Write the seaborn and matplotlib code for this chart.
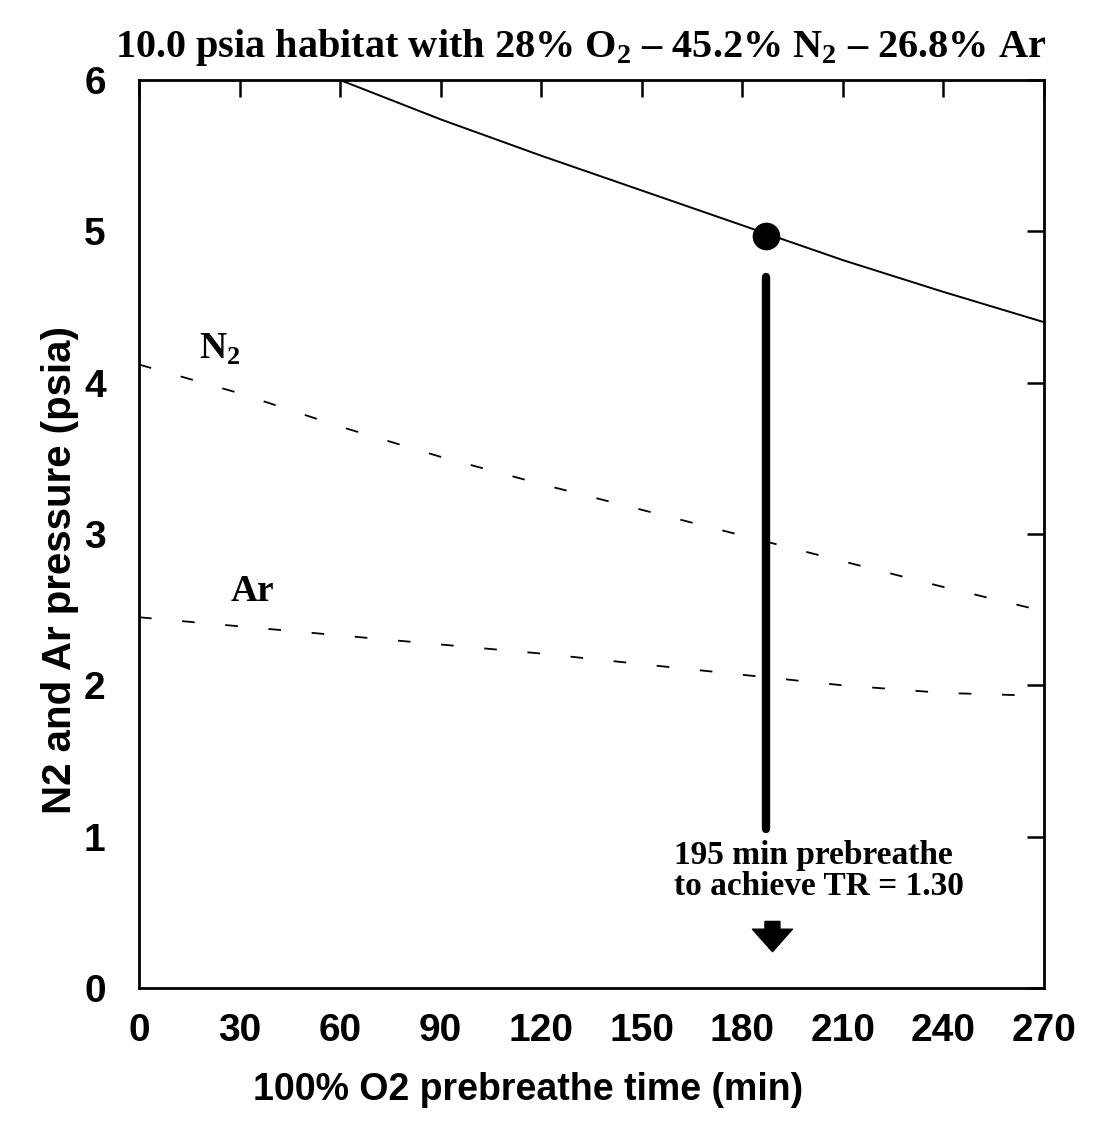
import numpy as np
import pandas as pd
import seaborn as sns
import matplotlib
matplotlib.use("Agg")
import matplotlib.pyplot as plt

# Values
time_min = [0, 30, 60, 90, 120, 150, 180, 210, 240, 270]
total_psia = [6.57, 6.29, 6.00, 5.74, 5.50, 5.27, 5.04, 4.81, 4.60, 4.40]
n2_psia = [4.12, 3.93, 3.71, 3.51, 3.33, 3.16, 2.99, 2.82, 2.65, 2.49]
ar_psia = [2.45, 2.39, 2.33, 2.27, 2.21, 2.14, 2.07, 2.00, 1.95, 1.93]

target_time = [187]
target_psia = [4.97]
bar_range = [1.05, 4.70]

x_ticks = [0, 30, 60, 90, 120, 150, 180, 210, 240, 270]
y_ticks = [0, 1, 2, 3, 4, 5, 6]

title_text = (r"10.0 psia habitat with 28% O$_{\mathbf{2}}$ – 45.2% N$_{\mathbf{2}}$"
              r" – 26.8% Ar")
x_label = "100% O2 prebreathe time (min)"
y_label = "N2 and Ar pressure (psia)"
note_text = "195 min prebreathe\nto achieve TR = 1.30"

df = pd.DataFrame({"time": time_min, "total": total_psia, "N2": n2_psia, "Ar": ar_psia})

sns.set_style("white")
plt.rcParams["mathtext.fontset"] = "custom"
plt.rcParams["mathtext.rm"] = "Liberation Serif"
plt.rcParams["mathtext.bf"] = "Liberation Serif:bold"
plt.rcParams["text.color"] = "black"
plt.rcParams["axes.labelcolor"] = "black"
plt.rcParams["xtick.color"] = "black"
plt.rcParams["ytick.color"] = "black"

fig = plt.figure(figsize=(10.96, 11.35), dpi=100)
ax = fig.add_axes([0.1268, 0.1295, 0.8257, 0.80])

# curves
sns.lineplot(data=df, x="time", y="total", ax=ax, color="black", lw=1.4)
sns.lineplot(data=df, x="time", y="N2", ax=ax, color="black", lw=1.3,
             linestyle=(0, (7, 17)))
sns.lineplot(data=df, x="time", y="Ar", ax=ax, color="black", lw=1.3,
             linestyle=(0, (7, 17)))

# target point and marker bar
sns.scatterplot(x=target_time, y=target_psia, ax=ax, s=340, color="black",
                edgecolor="black", zorder=5)
ax.plot([target_time[0], target_time[0]], bar_range, color="black", lw=6,
        solid_capstyle="round")
ax.annotate("", xy=(target_time[0] + 2, 0.24), xytext=(target_time[0] + 2, 0.44),
            arrowprops=dict(arrowstyle="simple,head_width=1.6,head_length=0.9,tail_width=0.6",
                            color="black", mutation_scale=18, shrinkA=0, shrinkB=0))

serif = dict(family="Liberation Serif", weight="bold", color="black")
ax.text(159.5, 0.98, note_text, ha="left", va="top",
        fontsize=24, linespacing=1.0, **serif)
ax.text(24, 4.22, r"N$_{\mathbf{2}}$", ha="center", va="center", fontsize=27, **serif)
ax.text(34, 2.62, "Ar", ha="center", va="center", fontsize=27, **serif)

fig.text(0.53, 0.958, title_text, ha="center", va="center", fontsize=29, **serif)

# axes styling
ax.set_xlim(0, 270)
ax.set_ylim(0, 6)
ax.set_xticks(x_ticks)
ax.set_yticks(y_ticks)
sans = dict(family="Liberation Sans", weight="bold")
ax.set_xticklabels([str(t) for t in x_ticks], fontsize=28, **sans)
ax.set_yticklabels([str(t) for t in y_ticks], fontsize=28, **sans)
ax.tick_params(direction="in", length=12, width=1.8, top=True, right=True,
               color="black")
ax.tick_params(axis="x", pad=18)
ax.tick_params(axis="y", pad=24)
for sp in ax.spines.values():
    sp.set_color("black")
    sp.set_linewidth(2)

ax.set_xlabel(x_label, fontsize=27, **sans)
ax.set_ylabel(y_label, fontsize=29, **sans)
ax.xaxis.set_label_coords(0.43, -0.093)
ax.yaxis.set_label_coords(-0.066, 0.46)

fig.savefig("out.png", dpi=100)
